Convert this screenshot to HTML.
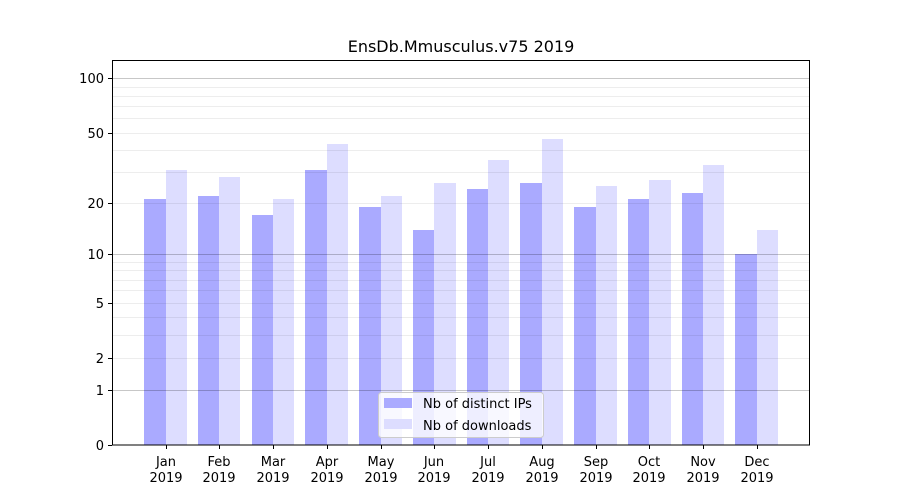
<!DOCTYPE html>
<html><head><meta charset="utf-8"><style>body{margin:0;background:#fff}svg{display:block}text{font-family:"DejaVu Sans","Liberation Sans",sans-serif;font-size:13px;fill:#000}</style></head>
<body>
<svg width="900" height="500" xmlns="http://www.w3.org/2000/svg">
<rect width="900" height="500" fill="#fff"/>
<text x="461" y="52" text-anchor="middle" font-size="16" style="font-size:16px">EnsDb.Mmusculus.v75 2019</text>
<g id="bars">
<rect x="144" y="199" width="22" height="246" fill="#aaaaff"/><rect x="166" y="170" width="21" height="275" fill="#ddddff"/>
<rect x="198" y="196" width="21" height="249" fill="#aaaaff"/><rect x="219" y="177" width="21" height="268" fill="#ddddff"/>
<rect x="252" y="215" width="21" height="230" fill="#aaaaff"/><rect x="273" y="199" width="21" height="246" fill="#ddddff"/>
<rect x="305" y="170" width="22" height="275" fill="#aaaaff"/><rect x="327" y="144" width="21" height="301" fill="#ddddff"/>
<rect x="359" y="207" width="22" height="238" fill="#aaaaff"/><rect x="381" y="196" width="21" height="249" fill="#ddddff"/>
<rect x="413" y="230" width="21" height="215" fill="#aaaaff"/><rect x="434" y="183" width="22" height="262" fill="#ddddff"/>
<rect x="467" y="189" width="21" height="256" fill="#aaaaff"/><rect x="488" y="160" width="21" height="285" fill="#ddddff"/>
<rect x="520" y="183" width="22" height="262" fill="#aaaaff"/><rect x="542" y="139" width="21" height="306" fill="#ddddff"/>
<rect x="574" y="207" width="22" height="238" fill="#aaaaff"/><rect x="596" y="186" width="21" height="259" fill="#ddddff"/>
<rect x="628" y="199" width="21" height="246" fill="#aaaaff"/><rect x="649" y="180" width="22" height="265" fill="#ddddff"/>
<rect x="682" y="193" width="21" height="252" fill="#aaaaff"/><rect x="703" y="165" width="21" height="280" fill="#ddddff"/>
<rect x="735" y="254" width="22" height="191" fill="#aaaaff"/><rect x="757" y="230" width="21" height="215" fill="#ddddff"/>
</g>
<g stroke="#000" stroke-opacity="0.07" stroke-width="1">
<line x1="112" x2="810" y1="335.5" y2="335.5"/><line x1="112" x2="810" y1="317.5" y2="317.5"/><line x1="112" x2="810" y1="290.5" y2="290.5"/><line x1="112" x2="810" y1="280.5" y2="280.5"/><line x1="112" x2="810" y1="270.5" y2="270.5"/><line x1="112" x2="810" y1="262.5" y2="262.5"/>
<line x1="112" x2="810" y1="172.5" y2="172.5"/><line x1="112" x2="810" y1="150.5" y2="150.5"/><line x1="112" x2="810" y1="118.5" y2="118.5"/><line x1="112" x2="810" y1="106.5" y2="106.5"/><line x1="112" x2="810" y1="96.5" y2="96.5"/><line x1="112" x2="810" y1="87.5" y2="87.5"/>
<line x1="112" x2="810" y1="358.5" y2="358.5"/><line x1="112" x2="810" y1="303.5" y2="303.5"/><line x1="112" x2="810" y1="203.5" y2="203.5"/><line x1="112" x2="810" y1="133.5" y2="133.5"/>
</g>
<g stroke="#000" stroke-opacity="0.22" stroke-width="1">
<line x1="112" x2="810" y1="390.5" y2="390.5"/><line x1="112" x2="810" y1="254.5" y2="254.5"/><line x1="112" x2="810" y1="78.5" y2="78.5"/>
</g>
<rect x="112.5" y="60.5" width="697" height="384.5" fill="none" stroke="#000" stroke-width="1"/>
<g stroke="#000">
<line x1="108" x2="112" y1="445.5" y2="445.5"/><line x1="108" x2="112" y1="390.5" y2="390.5"/><line x1="108" x2="112" y1="358.5" y2="358.5"/><line x1="108" x2="112" y1="303.5" y2="303.5"/><line x1="108" x2="112" y1="254.5" y2="254.5"/><line x1="108" x2="112" y1="203.5" y2="203.5"/><line x1="108" x2="112" y1="133.5" y2="133.5"/><line x1="108" x2="112" y1="78.5" y2="78.5"/>
</g>
<g text-anchor="end">
<text x="104" y="450">0</text><text x="104" y="395">1</text><text x="104" y="363">2</text><text x="104" y="308">5</text><text x="104" y="259">10</text><text x="104" y="208">20</text><text x="104" y="138">50</text><text x="104" y="83">100</text>
</g>
<g stroke="#000">
<line x1="166.5" x2="166.5" y1="445" y2="449"/><line x1="219.5" x2="219.5" y1="445" y2="449"/><line x1="273.5" x2="273.5" y1="445" y2="449"/><line x1="327.5" x2="327.5" y1="445" y2="449"/><line x1="381.5" x2="381.5" y1="445" y2="449"/><line x1="434.5" x2="434.5" y1="445" y2="449"/><line x1="488.5" x2="488.5" y1="445" y2="449"/><line x1="542.5" x2="542.5" y1="445" y2="449"/><line x1="596.5" x2="596.5" y1="445" y2="449"/><line x1="649.5" x2="649.5" y1="445" y2="449"/><line x1="703.5" x2="703.5" y1="445" y2="449"/><line x1="757.5" x2="757.5" y1="445" y2="449"/>
</g>
<g text-anchor="middle">
<text x="166" y="466">Jan</text><text x="166" y="482">2019</text>
<text x="219" y="466">Feb</text><text x="219" y="482">2019</text>
<text x="273" y="466">Mar</text><text x="273" y="482">2019</text>
<text x="327" y="466">Apr</text><text x="327" y="482">2019</text>
<text x="381" y="466">May</text><text x="381" y="482">2019</text>
<text x="434" y="466">Jun</text><text x="434" y="482">2019</text>
<text x="488" y="466">Jul</text><text x="488" y="482">2019</text>
<text x="542" y="466">Aug</text><text x="542" y="482">2019</text>
<text x="596" y="466">Sep</text><text x="596" y="482">2019</text>
<text x="649" y="466">Oct</text><text x="649" y="482">2019</text>
<text x="703" y="466">Nov</text><text x="703" y="482">2019</text>
<text x="757" y="466">Dec</text><text x="757" y="482">2019</text>
</g>
<rect x="378.5" y="392.5" width="165" height="45" rx="3" fill="#fff" fill-opacity="0.8" stroke="#ccc"/>
<rect x="384" y="398" width="28" height="10" fill="#aaaaff"/>
<rect x="384" y="419" width="28" height="10" fill="#ddddff"/>
<text x="423" y="408">Nb of distinct IPs</text>
<text x="423" y="430">Nb of downloads</text>
</svg>
</body></html>
